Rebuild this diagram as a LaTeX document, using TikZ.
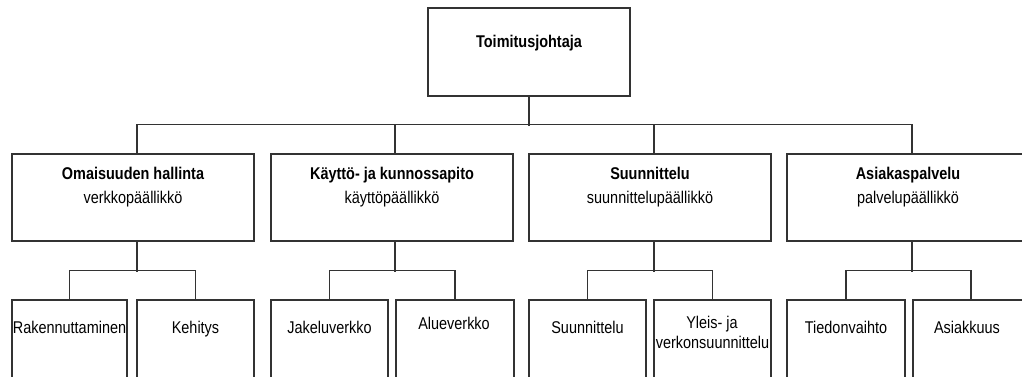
\documentclass[tikz,border=0pt]{standalone}
\usepackage{fontspec}
\setmainfont{Liberation Sans}[FakeStretch=0.85]
\begin{document}
\begin{tikzpicture}[x=1pt,y=-1pt,
  box/.style={draw=black!80, line width=1.3pt, rectangle, inner sep=0pt},
  conn/.style={draw=black!80, line width=1.3pt},
  txt/.style={inner sep=0pt, anchor=base, font=\fontsize{17}{20}\selectfont},
  btxt/.style={txt, font=\fontsize{17}{20}\selectfont\bfseries}]
\useasboundingbox (0,0) rectangle (1022,376);
\clip (0,0) rectangle (1022,376);
% top
\node[box, minimum width=202pt, minimum height=88pt] (top) at (529,52) {};
\node[btxt] (ttop) at (529,47) {Toimitusjohtaja};
% row 2
\node[box, minimum width=242pt, minimum height=87pt] (b1) at (133,197.5) {};
\node[box, minimum width=242pt, minimum height=87pt] (b2) at (392,197.5) {};
\node[box, minimum width=242pt, minimum height=87pt] (b3) at (650,197.5) {};
\node[box, minimum width=242pt, minimum height=87pt] (b4) at (908,197.5) {};
\node[btxt] (t1) at (133,179) {Omaisuuden hallinta};
\node[txt]  (s1) at (133,203) {verkkopäällikkö};
\node[btxt] (t2) at (392,179) {Käyttö- ja kunnossapito};
\node[txt]  (s2) at (392,203) {käyttöpäällikkö};
\node[btxt] (t3) at (650,179) {Suunnittelu};
\node[txt]  (s3) at (650,203) {suunnittelupäällikkö};
\node[btxt] (t4) at (908,179) {Asiakaspalvelu};
\node[txt]  (s4) at (908,203) {palvelupäällikkö};
% row 3
\node[box, minimum width=115pt, minimum height=100pt] (c11) at (69.5,350) {};
\node[box, minimum width=117pt, minimum height=100pt] (c12) at (195.5,350) {};
\node[box, minimum width=117pt, minimum height=100pt] (c21) at (329.5,350) {};
\node[box, minimum width=118pt, minimum height=100pt] (c22) at (455,350) {};
\node[box, minimum width=117pt, minimum height=100pt] (c31) at (587.5,350) {};
\node[box, minimum width=117pt, minimum height=100pt] (c32) at (712.5,350) {};
\node[box, minimum width=118pt, minimum height=100pt] (c41) at (846,350) {};
\node[box, minimum width=116pt, minimum height=100pt] (c42) at (971,350) {};
\node[txt] (u11) at (69.5,333) {Rakennuttaminen};
\node[txt] (u12) at (195.5,333) {Kehitys};
\node[txt] (u21) at (329.5,333) {Jakeluverkko};
\node[txt] (u22) at (454,329) {Alueverkko};
\node[txt] (u31) at (587.5,333) {Suunnittelu};
\node[txt] (u32a) at (712,328) {Yleis- ja};
\node[txt] (u32b) at (712.5,348) {verkonsuunnittelu};
\node[txt] (u41) at (846,333) {Tiedonvaihto};
\node[txt] (u42) at (967,333) {Asiakkuus};
% connectors top level
\draw[conn] (top.south) -- ++(0,29);
\draw[conn] ([xshift=4pt]b1.north) -- ++(0,-29) -| ([xshift=4pt]b4.north);
\draw[conn] ([xshift=3pt]b2.north) -- ++(0,-29);
\draw[conn] ([xshift=4pt]b3.north) -- ++(0,-29);
% connectors second level
\draw[conn] ([xshift=4pt]b1.south) -- ++(0,30);
\draw[conn] (c11.north) -- ++(0,-29) -| (c12.north);
\draw[conn] ([xshift=3pt]b2.south) -- ++(0,30);
\draw[conn] (c21.north) -- ++(0,-29) -| (c22.north);
\draw[conn] ([xshift=4pt]b3.south) -- ++(0,30);
\draw[conn] (c31.north) -- ++(0,-29) -| (c32.north);
\draw[conn] ([xshift=4pt]b4.south) -- ++(0,30);
\draw[conn] (c41.north) -- ++(0,-29) -| (c42.north);
\end{tikzpicture}
\end{document}
